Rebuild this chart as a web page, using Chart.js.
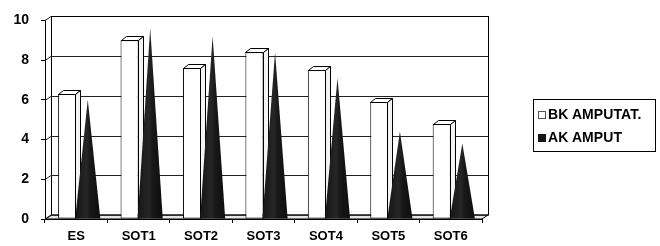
<!DOCTYPE html>
<html>
<head>
<meta charset="utf-8">
<script src="https://cdn.jsdelivr.net/npm/chart.js@4.4.0/dist/chart.umd.min.js"></script>
<style>
  html, body { margin: 0; padding: 0; background: #fff; }
  #wrap { position: relative; width: 660px; height: 246px; }
  #legend {
    position: absolute; left: 533px; top: 99px; width: 123px; height: 53px;
    border: 1px solid #000; box-sizing: border-box;
    font: bold 14px "Liberation Sans", Arial, sans-serif; color: #000;
    letter-spacing: 0.1px;
    padding: 5px 0 0 4px;
  }
  #legend div { height: 23px; line-height: 18px; white-space: nowrap; }
  #legend span.box { display: inline-block; width: 8px; height: 8px; margin-right: 2px; vertical-align: 0px; box-sizing: border-box; }
</style>
</head>
<body>
<div id="wrap">
  <canvas id="chart" width="660" height="246"></canvas>
  <div id="legend"></div>
</div>
<script>
const categories = ['ES', 'SOT1', 'SOT2', 'SOT3', 'SOT4', 'SOT5', 'SOT6'];
const bkValues = [6.3, 9.0, 7.6, 8.4, 7.5, 5.9, 4.8];
const akValues = [5.9, 9.5, 9.1, 8.3, 7.0, 4.3, 3.7];
const seriesLabels = ['BK AMPUTAT.', 'AK AMPUT'];

const FONT = '"Liberation Sans", Arial, sans-serif';
const DX = 5, DY = -4;   // bar depth
const WX = 6, WY = -4;   // wall depth

// back wall, floor and gridlines
const walls = {
  id: 'walls',
  beforeDatasetsDraw(chart) {
    const ctx = chart.ctx, a = chart.chartArea, y = chart.scales.y;
    ctx.save();
    ctx.lineWidth = 1;
    ctx.strokeStyle = '#000';
    // floor
    ctx.beginPath();
    ctx.moveTo(a.left, a.bottom);
    ctx.lineTo(a.right, a.bottom);
    ctx.lineTo(a.right + WX, a.bottom + WY);
    ctx.lineTo(a.left + WX, a.bottom + WY);
    ctx.closePath();
    ctx.fillStyle = '#e6e6e6';
    ctx.fill();
    ctx.stroke();
    // back wall
    ctx.strokeRect(Math.round(a.left + WX) + 0.5, Math.round(a.top + WY) + 0.5, a.right - a.left, a.bottom - a.top);
    // gridlines + left wall diagonals
    ctx.strokeStyle = '#222';
    y.ticks.forEach(t => {
      const py = Math.round(y.getPixelForValue(t.value));
      ctx.beginPath();
      ctx.moveTo(a.left, py + 0.5);
      ctx.lineTo(a.left + WX, py + WY + 0.5);
      if (t.value > 0 && t.value < 10) ctx.lineTo(a.right + WX, py + WY + 0.5);
      ctx.stroke();
    });
    ctx.restore();
  },
  afterDatasetsDraw(chart) {
    const ctx = chart.ctx;
    ctx.save();
    ctx.lineWidth = 1;
    ctx.strokeStyle = '#000';
    // sides and tops of the white columns
    chart.getDatasetMeta(0).data.forEach(bar => {
      const p = bar.getProps(['x', 'y', 'base', 'width'], true);
      const l = Math.round(p.x - p.width / 2) + 0.5, r = Math.round(p.x + p.width / 2) - 0.5;
      const t = Math.round(p.y) + 0.5, b = Math.round(p.base) - 0.5;
      ctx.fillStyle = '#fff';
      ctx.beginPath();
      ctx.moveTo(l, t); ctx.lineTo(l + DX, t + DY); ctx.lineTo(r + DX, t + DY); ctx.lineTo(r, t);
      ctx.closePath(); ctx.fill(); ctx.stroke();
      ctx.fillStyle = '#f4f4f4';
      ctx.beginPath();
      ctx.moveTo(r, t); ctx.lineTo(r + DX, t + DY); ctx.lineTo(r + DX, b + DY); ctx.lineTo(r, b);
      ctx.closePath(); ctx.fill(); ctx.stroke();
    });
    // black cones
    chart.getDatasetMeta(1).data.forEach(el => {
      const p = el.getProps(['x', 'y', 'base', 'width'], true);
      const l = p.x - p.width / 2 - 1, r = p.x + p.width / 2 + 6;
      const tip = (l + r) / 2;
      const g = ctx.createLinearGradient(l, 0, r, 0);
      g.addColorStop(0, '#161616');
      g.addColorStop(0.45, '#262626');
      g.addColorStop(0.6, '#181818');
      g.addColorStop(1, '#0e0e0e');
      ctx.fillStyle = g;
      ctx.beginPath();
      ctx.moveTo(l, p.base);
      ctx.lineTo(tip, p.y + DY / 2);
      ctx.lineTo(r, p.base);
      ctx.closePath();
      ctx.fill();
    });
    ctx.restore();
  }
};

const ctx = document.getElementById('chart').getContext('2d');
new Chart(ctx, {
  type: 'bar',
  data: {
    labels: categories,
    datasets: [{
      label: seriesLabels[0],
      data: bkValues,
      backgroundColor: '#fff',
      borderColor: '#000',
      borderWidth: 1,
      borderSkipped: false
    }, {
      label: seriesLabels[1],
      data: akValues,
      backgroundColor: 'rgba(0,0,0,0)',
      borderWidth: 0
    }]
  },
  options: {
    responsive: false,
    animation: false,
    events: [],
    layout: { padding: { top: 15, right: 178, left: 0, bottom: 0 } },
    datasets: { bar: { categoryPercentage: 0.58, barPercentage: 1 } },
    plugins: { legend: { display: false }, tooltip: { enabled: false } },
    scales: {
      x: {
        afterFit: s => { s.height = 27; },
        grid: { display: true, drawOnChartArea: false, offset: true, tickLength: 4, color: '#000' },
        border: { display: true, color: '#000' },
        ticks: { color: '#000', padding: 6, font: { family: FONT, size: 13, weight: 'bold' } }
      },
      y: {
        min: 0, max: 10,
        afterFit: s => { s.width = 45; },
        grid: { display: true, drawOnChartArea: false, tickLength: 4, color: '#000' },
        border: { display: true, color: '#000' },
        ticks: { stepSize: 2, color: '#000', padding: 12, font: { family: FONT, size: 14, weight: 'bold' } }
      }
    }
  },
  plugins: [walls]
});

// legend
const legend = document.getElementById('legend');
seriesLabels.forEach((name, i) => {
  const row = document.createElement('div');
  const box = document.createElement('span');
  box.className = 'box';
  box.style.background = i === 0 ? '#fff' : '#161616';
  box.style.border = i === 0 ? '1px solid #555' : '1px solid #161616';
  row.appendChild(box);
  row.appendChild(document.createTextNode(name));
  legend.appendChild(row);
});
</script>
</body>
</html>
